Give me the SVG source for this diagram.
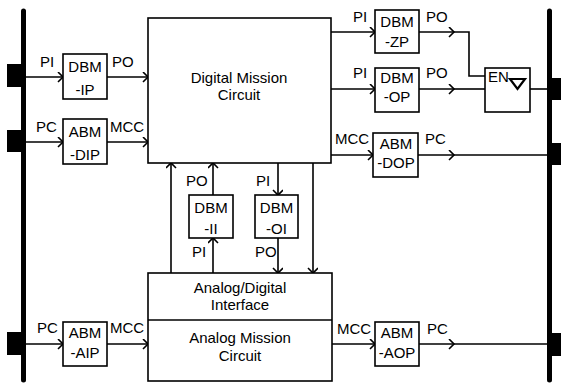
<svg xmlns="http://www.w3.org/2000/svg" width="561" height="383" viewBox="0 0 561 383">
<defs>
<marker id="ah" markerUnits="userSpaceOnUse" markerWidth="12" markerHeight="12" refX="6" refY="5" orient="auto" viewBox="0 0 12 12">
<path d="M1,0 L6,5 L1,10" fill="none" stroke="#000" stroke-width="1.6"/>
</marker>
<style>
.b{fill:#fff;stroke:#000;stroke-width:1.6}
.c{fill:none;stroke:#000;stroke-width:1.6}
.a{fill:none;stroke:#000;stroke-width:1.6;marker-end:url(#ah)}
.bus{stroke:#000;stroke-width:5;stroke-linecap:round}
text{font-family:"Liberation Sans",Arial,sans-serif;font-size:15px;fill:#000}
.m{text-anchor:middle}
</style>
</defs>
<rect width="561" height="383" fill="#fff"/>
<g id="left-bus">
<line class="bus" x1="23.5" y1="11" x2="23.5" y2="380"/>
<rect x="7" y="64" width="16" height="23"/>
<rect x="7" y="130" width="16" height="22"/>
<rect x="7" y="332" width="16" height="23"/>
</g>
<g id="right-bus">
<line class="bus" x1="549.5" y1="11" x2="549.5" y2="380"/>
<rect x="549" y="78" width="12" height="22"/>
<rect x="549" y="143" width="12" height="22"/>
<rect x="549" y="333" width="12" height="23"/>
</g>
<g id="connectors">
<line class="a" x1="23" y1="77" x2="63" y2="77"/>
<line class="a" x1="107" y1="77" x2="148" y2="77"/>
<line class="a" x1="23" y1="142" x2="63" y2="142"/>
<line class="a" x1="107" y1="142" x2="148" y2="142"/>
<line class="a" x1="23" y1="344" x2="63" y2="344"/>
<line class="a" x1="107" y1="344" x2="148" y2="344"/>
<line class="a" x1="331" y1="32" x2="375" y2="32"/>
<line class="a" x1="419" y1="32" x2="454" y2="32"/>
<polyline class="c" points="453,32 469,32 469,76 485,76"/>
<line class="a" x1="331" y1="89" x2="375" y2="89"/>
<line class="a" x1="419" y1="89" x2="454" y2="89"/>
<line class="c" x1="453" y1="89" x2="485" y2="89"/>
<line class="c" x1="530" y1="89" x2="549" y2="89"/>
<line class="a" x1="331" y1="155" x2="373" y2="155"/>
<line class="a" x1="418" y1="155" x2="454" y2="155"/>
<line class="c" x1="453" y1="155" x2="549" y2="155"/>
<line class="a" x1="332" y1="344" x2="375" y2="344"/>
<line class="a" x1="419" y1="344" x2="454" y2="344"/>
<line class="c" x1="453" y1="344" x2="549" y2="344"/>
<line class="a" x1="171" y1="273" x2="171" y2="163"/>
<line class="a" x1="213" y1="195" x2="213" y2="163"/>
<line class="a" x1="213" y1="273" x2="213" y2="238"/>
<line class="a" x1="278" y1="163" x2="278" y2="195"/>
<line class="a" x1="278" y1="238" x2="278" y2="273"/>
<line class="a" x1="313" y1="163" x2="313" y2="273"/>
</g>
<g id="labels">
<text x="40" y="67">PI</text>
<text x="112" y="67">PO</text>
<text x="36" y="132">PC</text>
<text x="110" y="132">MCC</text>
<text x="37" y="333">PC</text>
<text x="110" y="333">MCC</text>
<text x="353" y="22">PI</text>
<text x="426" y="22">PO</text>
<text x="353" y="78">PI</text>
<text x="426" y="78">PO</text>
<text x="335" y="144">MCC</text>
<text x="425" y="144">PC</text>
<text x="337" y="334">MCC</text>
<text x="427" y="334">PC</text>
<text x="186" y="186">PO</text>
<text x="256" y="186">PI</text>
<text x="192" y="257">PI</text>
<text x="255" y="257">PO</text>
</g>
<g id="dbm-ip"><rect class="b" x="63" y="54" width="44" height="45"/><text class="m" x="85" y="72">DBM</text><text class="m" x="85" y="95">-IP</text></g>
<g id="abm-dip"><rect class="b" x="63" y="119" width="44" height="45"/><text class="m" x="85" y="137">ABM</text><text class="m" x="85" y="160">-DIP</text></g>
<g id="abm-aip"><rect class="b" x="63" y="322" width="44" height="44"/><text class="m" x="85" y="338">ABM</text><text class="m" x="85" y="358">-AIP</text></g>
<g id="digital-mission-circuit"><rect class="b" x="148" y="18" width="183" height="145"/><text class="m" x="239" y="83">Digital Mission</text><text class="m" x="239" y="100">Circuit</text></g>
<g id="dbm-zp"><rect class="b" x="375" y="10" width="44" height="43"/><text class="m" x="397" y="27">DBM</text><text class="m" x="397" y="47">-ZP</text></g>
<g id="dbm-op"><rect class="b" x="375" y="68" width="44" height="44"/><text class="m" x="397" y="83">DBM</text><text class="m" x="397" y="102">-OP</text></g>
<g id="abm-dop"><rect class="b" x="373" y="133" width="45" height="44"/><text class="m" x="396" y="149">ABM</text><text class="m" x="396" y="168">-DOP</text></g>
<g id="en"><rect class="b" x="485" y="68" width="45" height="44"/><text x="488" y="82">EN</text><polygon points="510,79 525,79 517.5,89" fill="none" stroke="#000" stroke-width="2.2"/></g>
<g id="dbm-ii"><rect class="b" x="189" y="195" width="44" height="43"/><text class="m" x="211" y="213">DBM</text><text class="m" x="211" y="234">-II</text></g>
<g id="dbm-oi"><rect class="b" x="255" y="195" width="43" height="43"/><text class="m" x="276.5" y="213">DBM</text><text class="m" x="276.5" y="234">-OI</text></g>
<g id="analog-digital"><rect class="b" x="148" y="273" width="184" height="108"/><line class="c" x1="148" y1="320" x2="332" y2="320"/><text class="m" x="240" y="293">Analog/Digital</text><text class="m" x="240" y="310">Interface</text><text class="m" x="240" y="343">Analog Mission</text><text class="m" x="240" y="361">Circuit</text></g>
<g id="abm-aop"><rect class="b" x="375" y="322" width="44" height="44"/><text class="m" x="397" y="338">ABM</text><text class="m" x="397" y="358">-AOP</text></g>
</svg>
